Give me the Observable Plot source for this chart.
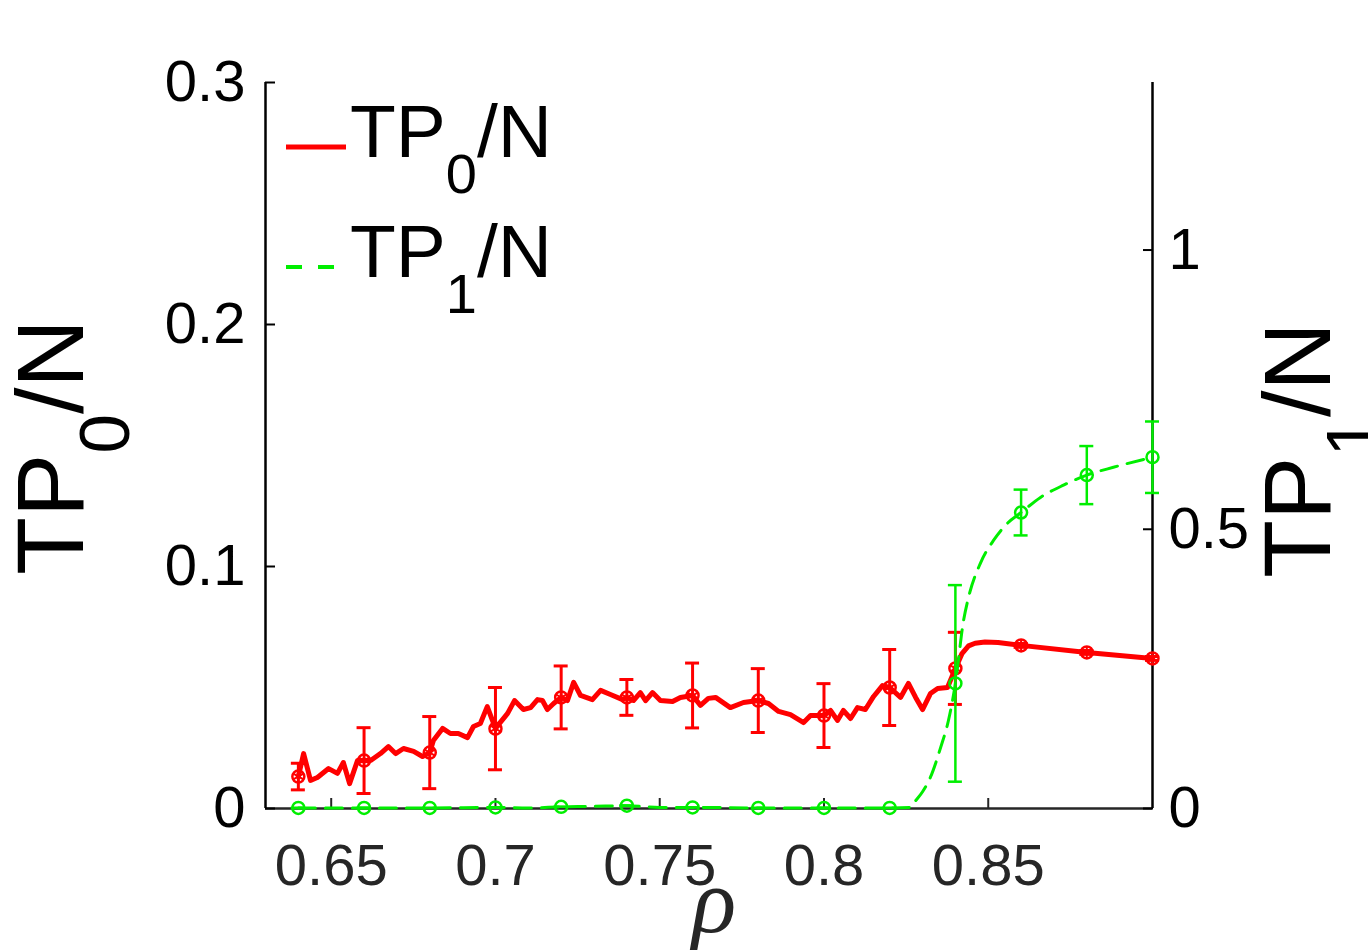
<!DOCTYPE html>
<html><head><meta charset="utf-8">
<script src="https://cdn.jsdelivr.net/npm/d3@7"></script>
<script src="https://cdn.jsdelivr.net/npm/@observablehq/plot@0.6"></script>
<style>body{margin:0;background:#fff;} svg{display:block}</style>
</head><body><div id="chart"></div>
<script>
// ---- data ----
const rho = [0.64,0.66,0.68,0.70,0.72,0.74,0.76,0.78,0.80,0.82,0.84,0.86,0.88,0.90];
const tp0 = [0.0132,0.0198,0.0231,0.0330,0.0459,0.0459,0.0467,0.0446,0.0384,0.0500,0.0579,0.0674,0.0645,0.0620];
const tp0Err = [0.0055,0.0136,0.0149,0.0170,0.0130,0.0074,0.0134,0.0132,0.0132,0.0157,0.0149,0.0008,0.0008,0.0008];
const tp1 = [0.001,0.001,0.001,0.002,0.003,0.005,0.002,0.001,0.001,0.001,0.224,0.530,0.597,0.629];
const tp1Err = [0,0,0,0,0,0,0,0,0,0,0.176,0.041,0.052,0.064];

const tp0LineX = [0.6400,0.6416,0.6437,0.6458,0.6492,0.6519,0.6537,0.6556,0.6580,0.6600,0.6620,0.6650,0.6674,0.6696,0.6720,0.6751,0.6778,0.6800,0.6811,0.6839,0.6863,0.6887,0.6915,0.6933,0.6954,0.6975,0.7000,0.7037,0.7058,0.7085,0.7107,0.7128,0.7143,0.7158,0.7177,0.7200,0.7219,0.7238,0.7259,0.7295,0.7320,0.7350,0.7387,0.7400,0.7420,0.7441,0.7457,0.7478,0.7502,0.7539,0.7563,0.7600,0.7624,0.7648,0.7670,0.7715,0.7755,0.7800,0.7831,0.7862,0.7898,0.7938,0.7959,0.8000,0.8020,0.8041,0.8059,0.8081,0.8102,0.8126,0.8151,0.8178,0.8200,0.8233,0.8257,0.8279,0.8300,0.8324,0.8346,0.8376,0.8400,0.8420,0.8440,0.8460,0.8490,0.8530,0.8600,0.8800,0.9000];
const tp0LineY = [0.0132,0.0227,0.0116,0.0128,0.0165,0.0145,0.0190,0.0103,0.0198,0.0198,0.0198,0.0227,0.0256,0.0227,0.0248,0.0236,0.0215,0.0231,0.0281,0.0331,0.0310,0.0310,0.0293,0.0339,0.0351,0.0421,0.0331,0.0393,0.0446,0.0409,0.0417,0.0450,0.0446,0.0409,0.0434,0.0459,0.0446,0.0521,0.0467,0.0450,0.0488,0.0471,0.0450,0.0459,0.0446,0.0479,0.0446,0.0479,0.0446,0.0442,0.0459,0.0467,0.0426,0.0455,0.0459,0.0417,0.0438,0.0446,0.0434,0.0401,0.0388,0.0355,0.0384,0.0384,0.0405,0.0364,0.0405,0.0372,0.0417,0.0409,0.0463,0.0508,0.0500,0.0459,0.0517,0.0459,0.0409,0.0475,0.0496,0.0500,0.0579,0.0640,0.0672,0.0683,0.0688,0.0686,0.0674,0.0645,0.0620];

const tp1LineX = [0.64,0.66,0.68,0.70,0.71,0.72,0.73,0.74,0.75,0.76,0.78,0.80,0.82,0.8263,0.8279,0.8300,0.8324,0.8355,0.8379,0.8400,0.8425,0.8440,0.8476,0.8516,0.8559,0.8600,0.8659,0.8729,0.8800,0.8881,0.9000];
const tp1LineY = [0.001,0.001,0.001,0.002,0.001,0.003,0.004,0.005,0.002,0.002,0.001,0.001,0.001,0.002,0.014,0.030,0.056,0.109,0.158,0.224,0.337,0.378,0.439,0.480,0.511,0.530,0.557,0.579,0.597,0.611,0.629];

const xDomain = [0.63, 0.90];
const leftDomain = [0, 0.3];
const rightDomain = [0, 1.3];
const xTicks = [0.65,0.70,0.75,0.80,0.85];
const xTickLabels = ["0.65","0.7","0.75","0.8","0.85"];
const leftTicks = [0,0.1,0.2,0.3];
const leftTickLabels = ["0","0.1","0.2","0.3"];
const rightTicks = [0,0.5,1];
const rightTickLabels = ["0","0.5","1"];

// secondary axis mapped onto the primary y scale
const K = leftDomain[1] / rightDomain[1];
const rightTicksScaled = rightTicks.map(v => v * K);

const red = "#ff0000", green = "#00ee00";
const pts0 = rho.map((x,i)=>({x, y: tp0[i], lo: tp0[i]-tp0Err[i], hi: tp0[i]+tp0Err[i]}));
const pts1 = rho.map((x,i)=>({x, y: tp1[i]*K, lo: (tp1[i]-tp1Err[i])*K, hi: (tp1[i]+tp1Err[i])*K}));
const line0 = tp0LineX.map((x,i)=>({x, y: tp0LineY[i]}));
const line1 = tp1LineX.map((x,i)=>({x, y: tp1LineY[i]*K}));

const FONT = "'Liberation Sans', Arial, Helvetica, sans-serif";

const chart = Plot.plot({
  width: 1368, height: 950,
  marginLeft: 265, marginRight: 216, marginTop: 82, marginBottom: 142,
  style: {fontFamily: FONT, background: "#fff", overflow: "visible"},
  x: {domain: xDomain},
  y: {domain: leftDomain},
  marks: [
    // axis lines (box without top)
    Plot.ruleY([leftDomain[0]], {stroke: "#262626", strokeWidth: 2.5}),
    Plot.ruleX([xDomain[0]], {stroke: "#000", strokeWidth: 2.5}),
    Plot.ruleX([xDomain[1]], {stroke: "#000", strokeWidth: 2.5}),
    Plot.axisX({ticks: xTicks, tickFormat: d => xTickLabels[xTicks.indexOf(d)], tickSize: -10, tickPadding: 45,
      fontSize: 58, stroke: "#262626", fill: "#262626", strokeWidth: 2, label: null}),
    Plot.axisY({anchor: "left", ticks: leftTicks, tickFormat: d => leftTickLabels[leftTicks.indexOf(d)], tickSize: -10, tickPadding: 30,
      fontSize: 58, stroke: "#000", fill: "#000", strokeWidth: 2, label: null}),
    Plot.axisY({anchor: "right", ticks: rightTicksScaled, tickFormat: d => rightTickLabels[rightTicksScaled.indexOf(d)], tickSize: -10, tickPadding: 26,
      fontSize: 58, stroke: "#000", fill: "#000", strokeWidth: 2, label: null}),
    // TP0 series
    Plot.line(line0, {x: "x", y: "y", stroke: red, strokeWidth: 5, strokeLinejoin: "round"}),
    Plot.ruleX(pts0, {x: "x", y1: "lo", y2: "hi", stroke: red, strokeWidth: 3}),
    Plot.ruleY(pts0, {y: "lo", x1: "x", x2: "x", insetLeft: -7, insetRight: -7, stroke: red, strokeWidth: 3}),
    Plot.ruleY(pts0, {y: "hi", x1: "x", x2: "x", insetLeft: -7, insetRight: -7, stroke: red, strokeWidth: 3}),
    Plot.dot(pts0, {x: "x", y: "y", r: 6, stroke: red, strokeWidth: 2.5, fill: "none"}),
    Plot.dot(pts0, {x: "x", y: "y", r: 6, symbol: "asterisk", stroke: red, strokeWidth: 2}),
    // TP1 series
    Plot.line(line1, {x: "x", y: "y", stroke: green, strokeWidth: 3, strokeDasharray: "17,10", curve: "monotone-x"}),
    Plot.ruleX(pts1, {x: "x", y1: "lo", y2: "hi", stroke: green, strokeWidth: 2.5}),
    Plot.ruleY(pts1, {y: "lo", x1: "x", x2: "x", insetLeft: -7, insetRight: -7, stroke: green, strokeWidth: 2.5}),
    Plot.ruleY(pts1, {y: "hi", x1: "x", x2: "x", insetLeft: -7, insetRight: -7, stroke: green, strokeWidth: 2.5}),
    Plot.dot(pts1, {x: "x", y: "y", r: 6, stroke: green, strokeWidth: 2.5, fill: "none"})
  ]
});
document.getElementById("chart").append(chart);

// ---- axis titles and legend (text with subscripts) ----
const svg = d3.select(chart);
function subText(g, x, y, main, sub, rest, size, subSize, shift, rotate, anchor) {
  const t = g.append("text")
    .attr("transform", `translate(${x},${y})` + (rotate ? ` rotate(${rotate})` : ""))
    .attr("text-anchor", anchor).attr("font-family", FONT).attr("fill", "#000")
    .attr("font-size", size);
  t.append("tspan").text(main);
  t.append("tspan").attr("font-size", subSize).attr("dy", shift).text(sub);
  t.append("tspan").attr("dy", -shift).text(rest);
  return t;
}
const g = svg.append("g");
subText(g, 83, 447, "TP", "0", "/N", 95, 71, 46, -90, "middle");
subText(g, 1330, 450, "TP", "1", "/N", 95, 71, 46, -90, "middle");
g.append("text").attr("x", 714).attr("y", 932).attr("text-anchor", "middle")
  .attr("font-family", "'Liberation Serif', 'DejaVu Serif', serif").attr("font-style", "italic")
  .attr("font-size", 92).attr("fill", "#262626").text("ρ");

// legend
const lg = svg.append("g");
lg.append("line").attr("x1", 286).attr("x2", 346).attr("y1", 147).attr("y2", 147)
  .attr("stroke", red).attr("stroke-width", 5);
lg.append("line").attr("x1", 286).attr("x2", 334).attr("y1", 267).attr("y2", 267)
  .attr("stroke", green).attr("stroke-width", 4).attr("stroke-dasharray", "16,16");
subText(lg, 350, 157, "TP", "0", "/N", 75, 56, 36, 0, "start");
subText(lg, 350, 277, "TP", "1", "/N", 75, 56, 36, 0, "start");
</script></body></html>
